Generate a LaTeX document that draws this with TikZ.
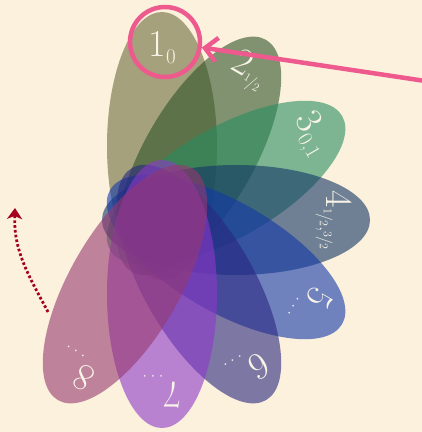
\documentclass[tikz,border=0pt]{standalone}
\usetikzlibrary{shapes.geometric,arrows.meta,calc}
\definecolor{bg}{HTML}{FBF1DC}
\definecolor{pA}{RGB}{109,109,61}
\definecolor{pB}{RGB}{46,83,40}
\definecolor{pC}{RGB}{41,141,97}
\definecolor{pD}{RGB}{19,53,103}
\definecolor{pE}{RGB}{19,56,170}
\definecolor{pF}{RGB}{41,39,128}
\definecolor{pG}{RGB}{141,56,203}
\definecolor{pH}{RGB}{150,56,112}
\definecolor{labc}{HTML}{F8F4E8}
\definecolor{hotpink}{HTML}{EE5A8E}
\definecolor{darkred}{HTML}{A50021}
\newcommand{\lab}[2]{#1\kern0.5pt\raisebox{-7pt}{\fontsize{21}{21}\selectfont #2}}
\newcommand{\nfr}[2]{{\fontsize{17}{17}\selectfont\raisebox{4pt}{\fontsize{12}{12}\selectfont #1}\kern-1pt/\kern-1pt{\fontsize{12}{12}\selectfont #2}}}
\newcommand{\ddd}{.\kern3pt.\kern3pt.}
\tikzset{
  petal/.style={ellipse, minimum width=268pt, minimum height=110pt, inner sep=0pt, fill opacity=0.6, draw=none},
  lbl/.style={text=labc, font=\fontsize{38}{40}\selectfont, inner sep=0pt},
  ringstyle/.style={circle, draw=hotpink, line width=4.5pt, minimum size=70pt, inner sep=0pt},
  pinkarrow/.style={draw=hotpink, line width=4.5pt, -{Straight Barb[length=12pt,width=24pt,line width=4.5pt]}},
  redarrow/.style={draw=darkred, line width=2.8pt, dash pattern=on 2.6pt off 2.2pt, -{Stealth[length=11pt,width=15pt,inset=3pt]}}
}
\begin{document}
\begin{tikzpicture}[x=1pt,y=1pt]
\fill[bg] (0,0) rectangle (422,432);
\useasboundingbox (0,0) rectangle (422,432);
\coordinate (P) at (162,212);
\foreach \k/\col in {1/pA,2/pB,3/pC,4/pD,5/pE,6/pF,7/pG,8/pH}{
  \pgfmathsetmacro\ang{90-30*(\k-1)}
  \node[petal, fill=\col, rotate=\ang] (p\k) at ($(P)+(\ang:74)$) {};
}
\foreach \k/\t in {1/{\lab{1}{0}}, 2/{\lab{2}{\nfr{1}{2}}}, 3/{\lab{3}{0,1}}, 4/{\lab{4}{\nfr{1}{2},\nfr{3}{2}}}, 5/{\lab{5}{\ddd}}, 6/{\lab{6}{\ddd}}, 7/{\lab{7}{\ddd}}, 8/{\lab{8}{\ddd}}}{
  \pgfmathsetmacro\ang{90-30*(\k-1)}
  \pgfmathsetmacro\rot{\ang-90}
  \node[lbl, rotate=\rot] (l\k) at ($(P)+(\ang:172)$) {\t};
}
\node[ringstyle] (ring) at (165,390) {};
\coordinate (pstart) at (432,350);
\draw[pinkarrow] (pstart) -- (ring);
\coordinate (rs) at (48,120);
\coordinate (re) at (15,224);
\draw[redarrow] (rs) to[out=118,in=-92] (re);
\end{tikzpicture}
\end{document}
